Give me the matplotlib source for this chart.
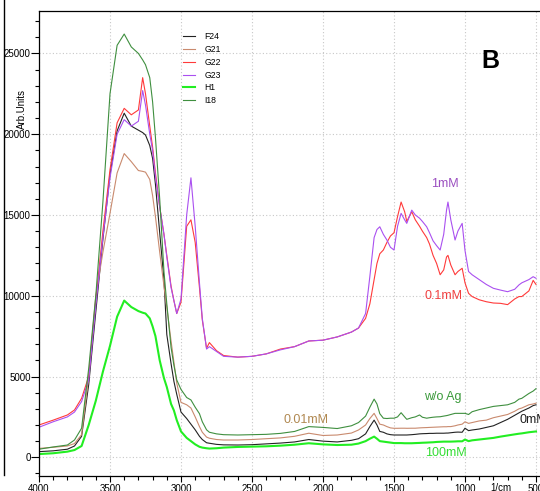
import matplotlib.pyplot as plt
from matplotlib.lines import Line2D
from matplotlib.ticker import MultipleLocator

plt.rcParams['font.family'] = ['Liberation Sans', 'DejaVu Sans']

# wavenumber grid (1/cm)
wn = [4000, 3900, 3800, 3750, 3700, 3650, 3600, 3550, 3500, 3450,
      3400, 3350, 3300, 3270, 3250, 3220, 3200, 3180, 3150, 3120,
      3100, 3070, 3050, 3030, 3000, 2960, 2930, 2900, 2870, 2850,
      2820, 2800, 2750, 2700, 2600, 2500, 2400, 2300, 2200, 2100,
      2000, 1900, 1800, 1750, 1700, 1670, 1640, 1620, 1600, 1575,
      1550, 1525, 1500, 1475, 1450, 1425, 1410, 1375, 1350, 1320,
      1300, 1270, 1250, 1225, 1200, 1175, 1150, 1130, 1120, 1100,
      1070, 1050, 1020, 1000, 975, 950, 900, 850, 800, 750,
      700, 650, 620, 600, 550, 520, 500]

f24 = [350, 400, 500, 700, 1300, 4500, 9000, 13500, 17500, 20200,
       21300, 20500, 20250, 20100, 19950, 19300, 18500, 16900, 13900, 11000,
       7600, 5800, 4700, 3900, 2800, 2400, 2050, 1700, 1300, 1100,
       900, 870, 800, 770, 760, 780, 830, 880, 950, 1100,
       1000, 950, 1050, 1150, 1450, 1900, 2300, 2000, 1600, 1550,
       1450, 1400, 1380, 1380, 1380, 1380, 1380, 1400, 1420, 1450,
       1460, 1470, 1480, 1480, 1490, 1490, 1490, 1500, 1500, 1520,
       1550, 1560, 1550, 1800, 1650, 1690, 1750, 1850, 1950, 2150,
       2350, 2600, 2750, 2850, 3050, 3200, 3250]

g21 = [550, 620, 700, 850, 1400, 5000, 10000, 12700, 15100, 17600,
       18800, 18300, 17750, 17700, 17650, 17200, 16200, 14900, 12700, 10600,
       9300, 7200, 5900, 4600, 3400, 3250, 3050, 2500, 1900, 1550,
       1250, 1180, 1100, 1070, 1070, 1100, 1150, 1200, 1300, 1490,
       1350, 1380, 1500, 1690, 2000, 2400, 2720, 2400, 2050, 2000,
       1900, 1820, 1795, 1795, 1800, 1800, 1795, 1800, 1800, 1820,
       1830, 1840, 1850, 1860, 1870, 1880, 1890, 1890, 1900, 1900,
       1950, 2000, 2050, 2200, 2100, 2150, 2250, 2300, 2450, 2550,
       2650, 2850, 3000, 3050, 3250, 3300, 3350]

g22 = [2000, 2300, 2620, 2930, 3650, 5000, 9700, 14000, 17800, 20700,
       21600, 21200, 21500, 23500, 22500, 20500, 19200, 17600, 15500, 13800,
       12500, 10600, 9700, 8900, 9600, 14300, 14700, 13300, 10500, 8500,
       6750, 7100, 6600, 6300, 6200, 6250, 6400, 6700, 6850, 7200,
       7250, 7450, 7750, 8000, 8600, 9500, 11000, 12000, 12600, 12830,
       13300, 13700, 13900, 14900, 15800, 15200, 14600, 15200, 14700, 14300,
       14000, 13600, 13200, 12500, 12000, 11300, 11600, 12400, 12500, 11900,
       11300, 11500, 11700, 10800, 10150, 9950, 9750, 9630, 9550, 9530,
       9450, 9800, 9950, 9950, 10300, 10950, 10700]

g23 = [1860, 2200, 2500, 2800, 3450, 4800, 9400, 13600, 17300, 20000,
       20900, 20500, 20800, 22700, 21800, 20000, 19000, 17400, 15500, 13800,
       12400, 10500, 9700, 8900, 9800, 15000, 17300, 14300, 10800, 8600,
       6700, 6850, 6550, 6250, 6200, 6250, 6400, 6650, 6850, 7200,
       7250, 7450, 7750, 8000, 8900, 11200, 13600, 14100, 14270, 13800,
       13450, 13000, 12830, 14300, 15100, 14700, 14480, 15300, 15000, 14800,
       14600, 14270, 13900, 13400, 13100, 12830, 13800, 15300, 15800, 14700,
       13450, 14000, 14480, 12800, 11500, 11300, 11000, 10700, 10460, 10350,
       10250, 10400, 10670, 10800, 11000, 11180, 11080]

h1 = [200, 250, 350, 450, 700, 2000, 3500, 5300, 6900, 8700,
      9700, 9300, 9050, 8950, 8900, 8600, 8100, 7500, 6000, 4900,
      4350, 3300, 2900, 2300, 1600, 1200, 1000, 800, 650, 600,
      560, 540, 560, 600, 640, 660, 680, 720, 780, 870,
      800, 760, 780, 850, 1000, 1150, 1280, 1150, 1000, 970,
      940, 910, 880, 880, 880, 870, 870, 870, 880, 890,
      900, 910, 920, 930, 950, 960, 970, 970, 970, 970,
      980, 990, 990, 1100, 1000, 1050, 1100, 1150, 1200, 1280,
      1350, 1420, 1460, 1480, 1550, 1580, 1600]

i18 = [500, 640, 760, 1070, 1800, 5500, 10000, 15800, 22500, 25500,
       26200, 25400, 25000, 24600, 24300, 23500, 22000, 19800, 16000, 11500,
       9500, 6800, 5700, 4790, 4200, 3700, 3550, 3100, 2700, 2200,
       1700, 1550, 1450, 1400, 1380, 1400, 1420, 1480, 1600, 1900,
       1850, 1780, 1950, 2150, 2550, 3100, 3600, 3300, 2700, 2420,
       2400, 2420, 2420, 2500, 2760, 2500, 2350, 2450, 2500, 2620,
       2480, 2420, 2450, 2480, 2500, 2510, 2550, 2580, 2600, 2650,
       2720, 2720, 2720, 2720, 2650, 2820, 2950, 3050, 3150, 3200,
       3250, 3400, 3600, 3650, 3950, 4100, 4250]

series = [("F24", f24, "#222222", 0.8),
          ("G21", g21, "#c98a6e", 0.8),
          ("G22", g22, "#ff3a3a", 0.8),
          ("G23", g23, "#aa50f0", 0.8),
          ("H1", h1, "#22ee22", 1.5),
          ("I18", i18, "#3f8f3f", 0.8)]

# text labels placed on the curves: (text, wn, value, color, ha)
notes = [("1mM", 1141, 16900, "#9b4fc0", "center"),
         ("0.1mM", 1148, 9985, "#f04040", "center"),
         ("w/o Ag", 1155, 3730, "#3a9a3a", "center"),
         ("0.01mM", 2120, 2310, "#b08850", "center"),
         ("0mM", 613, 2310, "#202020", "left"),
         ("100mM", 1134, 266, "#33dd33", "center")]

W, H = 540, 491
fig = plt.figure(figsize=(W / 100, H / 100), dpi=100)
ax = fig.add_axes([39 / W, 1 - 476 / H, 501 / W, 465 / H])

for name, vals, col, lw in series:
    ax.plot(wn, vals, color=col, lw=lw, label=name)

ax.set_xlim(4000, 4000 - 501 / 0.142)
ax.set_ylim(-1158, 27626)

ax.xaxis.set_major_locator(MultipleLocator(500))
ax.xaxis.set_minor_locator(MultipleLocator(100))
ax.yaxis.set_major_locator(MultipleLocator(5000))
ax.yaxis.set_minor_locator(MultipleLocator(1000))
ax.tick_params(which='major', direction='out', length=5.5, width=0.8, labelsize=7, pad=0.5)
ax.tick_params(which='minor', direction='out', length=2.8, width=0.8)
ax.tick_params(axis='x', which='major', length=4.5, pad=1)

ax.spines['right'].set_visible(False)
for s in ['left', 'top', 'bottom']:
    ax.spines[s].set_linewidth(0.9)

ax.grid(True, which='major', color='#c8c8c8', linestyle=(0, (1, 2)), linewidth=0.8)
ax.set_axisbelow(True)

ax.legend(loc='upper left', bbox_to_anchor=(183 / W, 1 - 32 / H),
          bbox_transform=fig.transFigure, frameon=False, fontsize=6.2,
          handlelength=1.4, handletextpad=1.1, labelspacing=0.45,
          borderpad=0, borderaxespad=0)

for txt, x, y, col, ha in notes:
    ax.text(x, y, txt, color=col, fontsize=9, ha=ha, va='center')

ax.text(824, 24530, "B", fontsize=18, fontweight='bold', ha='center', va='center')

fig.text(22 / W, 1 - 109 / H, "Arb.Units", rotation=90, fontsize=7,
         ha='center', va='center')
fig.text(501 / W, 1 - 488 / H, "1/cm", fontsize=7, ha='center', va='center')

# right edge of the neighbouring panel
fig.add_artist(Line2D([3.5 / W, 3.5 / W], [1, 1 - 475 / H],
                      transform=fig.transFigure, color='black', lw=1))

fig.savefig("out.png", dpi=100)
